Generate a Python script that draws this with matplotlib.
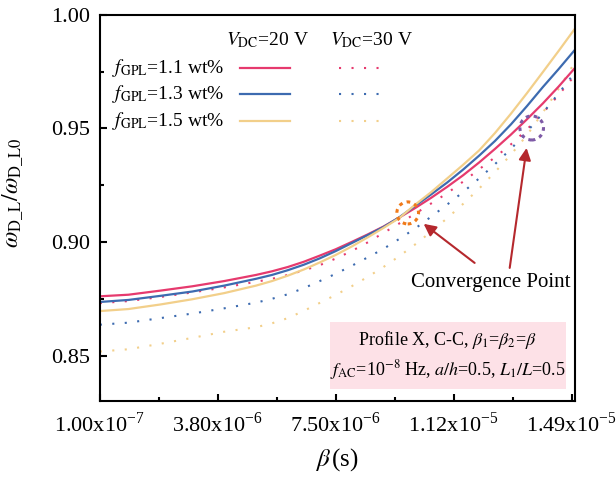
import numpy as np
import matplotlib
matplotlib.use('Agg')
import matplotlib.pyplot as plt
from matplotlib.lines import Line2D
from matplotlib.patches import Rectangle, Ellipse

plt.rcParams['font.family'] = ['Liberation Serif', 'DejaVu Serif']
plt.rcParams['mathtext.fontset'] = 'stix'

# beta in microseconds
beta_us = [0.1, 1, 2, 3, 4, 5, 5.5, 6, 6.5, 7, 7.5, 8, 8.5, 9, 9.5, 10,
           10.5, 11, 11.5, 12, 12.5, 13, 13.5, 14, 14.5, 15]

# V_DC = 20 V
w20_11 = [0.8761, 0.8768, 0.8786, 0.8805, 0.8828, 0.8855, 0.8871, 0.8890,
          0.8913, 0.8940, 0.8968, 0.9000, 0.9033, 0.9068, 0.9108, 0.9150,
          0.9195, 0.9243, 0.9294, 0.9350, 0.9410, 0.9473, 0.9540, 0.9610,
          0.9685, 0.9765]
w20_13 = [0.8736, 0.8745, 0.8763, 0.8782, 0.8808, 0.8838, 0.8855, 0.8876,
          0.8900, 0.8928, 0.8960, 0.8995, 0.9030, 0.9066, 0.9109, 0.9160,
          0.9210, 0.9262, 0.9319, 0.9380, 0.9445, 0.9518, 0.9598, 0.9682,
          0.9762, 0.9845]
w20_15 = [0.8696, 0.8705, 0.8725, 0.8748, 0.8775, 0.8808, 0.8828, 0.8852,
          0.8879, 0.8910, 0.8943, 0.8980, 0.9020, 0.9062, 0.9106, 0.9165,
          0.9220, 0.9280, 0.9340, 0.9403, 0.9480, 0.9565, 0.9655, 0.9748,
          0.9842, 0.9938]

# V_DC = 30 V
w30_11 = [0.8731, 0.8740, 0.8758, 0.8778, 0.8800, 0.8825, 0.8838, 0.8855,
          0.8875, 0.8898, 0.8927, 0.8960, 0.8998, 0.9040, 0.9082, 0.9125,
          0.9170, 0.9215, 0.9266, 0.9320, 0.9373, 0.9430, 0.9495, 0.9568,
          0.9648, 0.9733]
w30_13 = [0.8636, 0.8645, 0.8665, 0.8685, 0.8708, 0.8733, 0.8750, 0.8770,
          0.8797, 0.8828, 0.8860, 0.8895, 0.8932, 0.8970, 0.9014, 0.9060,
          0.9112, 0.9165, 0.9220, 0.9280, 0.9343, 0.9410, 0.9485, 0.9568,
          0.9655, 0.9745]
w30_15 = [0.8518, 0.8528, 0.8552, 0.8578, 0.8605, 0.8625, 0.8642, 0.8665,
          0.8697, 0.8732, 0.8767, 0.8805, 0.8846, 0.8890, 0.8938, 0.8990,
          0.9046, 0.9105, 0.9168, 0.9235, 0.9308, 0.9385, 0.9470, 0.9570,
          0.9675, 0.9790]

fractions = ['1.1', '1.3', '1.5']
colors = ['#e63a6e', '#3d6bb0', '#f2cf8a']

xticks = [1.00e-7, 3.80e-6, 7.50e-6, 1.12e-5, 1.49e-5]
xtick_labels = ['1.00x10$^{\\mathregular{-7}}$', '3.80x10$^{\\mathregular{-6}}$',
                '7.50x10$^{\\mathregular{-6}}$', '1.12x10$^{\\mathregular{-5}}$',
                '1.49x10$^{\\mathregular{-5}}$']
yticks = [0.85, 0.90, 0.95, 1.00]

# convergence points (x in s, y)
conv_20 = (9.76e-6, 0.9128)
conv_30 = (13.65e-6, 0.9502)

x = np.array(beta_us) * 1e-6
dotted = (0, (1, 5))

fig = plt.figure(figsize=(6.16, 4.78), dpi=100)
ax = fig.add_axes([0.162, 0.161, 0.771, 0.808])

for ys, c in zip([w30_11, w30_13, w30_15], colors):
    ax.plot(x, ys, color=c, lw=1.5, linestyle=dotted)
for ys, c in zip([w20_11, w20_13, w20_15], colors):
    ax.plot(x, ys, color=c, lw=1.6)

ax.set_xlim(1e-7, 1.5e-5)
ax.set_ylim(0.83, 1.00)
ax.set_xticks(xticks)
ax.set_xticklabels(xtick_labels)
ax.set_xticks([(a + b) / 2 for a, b in zip(xticks[:-1], xticks[1:])], minor=True)
ax.set_yticks(yticks)
ax.set_yticklabels(['%.2f' % v for v in yticks])
ax.set_yticks([0.875, 0.925, 0.975], minor=True)
ax.tick_params(which='both', direction='in', width=1.5, labelsize=16,
               top=False, right=False)
ax.tick_params(which='major', length=5)
ax.tick_params(which='minor', length=3)
ax.tick_params(axis='x', pad=8)
ax.tick_params(axis='y', pad=7)
for s in ax.spines.values():
    s.set_linewidth(1.5)

ax.set_xlabel(r'$\beta\,$(s)', fontsize=18, labelpad=7)
ax.set_ylabel(r'$\omega_{\mathrm{D\_L}}/\omega_{\mathrm{D\_L0}}$', fontsize=17)
ax.yaxis.set_label_coords(-0.155, 0.539)

# hand-made legend
tr = ax.transAxes
ax.text(0.354, 0.935, r'$V_{\mathrm{DC}}$=20 V', transform=tr, fontsize=14,
        ha='center', va='center')
ax.text(0.573, 0.935, r'$V_{\mathrm{DC}}$=30 V', transform=tr, fontsize=14,
        ha='center', va='center')
for i, (fr, c) in enumerate(zip(fractions, colors)):
    yy = 0.8635 - i * 0.0693
    ax.text(0.025, yy, r'$f_{\mathrm{GPL}}$=' + fr + ' wt%', transform=tr,
            fontsize=14, ha='left', va='center')
    ax.add_line(Line2D([0.296, 0.400], [yy, yy], transform=tr, color=c, lw=1.6))
    ax.add_line(Line2D([0.503, 0.592], [yy, yy], transform=tr, color=c, lw=1.5,
                       linestyle=dotted))

# parameter box
ax.add_patch(Rectangle((0.484, 0.031), 0.497, 0.174, transform=tr,
                       facecolor='#fde1e7', edgecolor='none', zorder=1))
ax.text(0.7325, 0.158, r'Profile X, C-C, $\beta_1$=$\beta_2$=$\beta$',
        transform=tr, fontsize=13, ha='center', va='center')
ax.text(0.7325, 0.080, r'$f_{\mathrm{AC}}$=10$^{-8}$ Hz, $a/h$=0.5, $L_1/L$=0.5',
        transform=tr, fontsize=13, ha='center', va='center')

# convergence markers
ax.add_patch(Ellipse(conv_20, 0.68e-6, 0.0097, fill=False, edgecolor='#f07a1a',
                     lw=2.2, linestyle=(0, (1.2, 1.4)), zorder=5))
ax.add_patch(Ellipse(conv_30, 0.74e-6, 0.0106, fill=False, edgecolor='#7e5aa6',
                     lw=2.2, linestyle=(0, (1.2, 1.4)), zorder=5))

arrow = dict(arrowstyle='-|>', color='#b5282d', lw=1.5, mutation_scale=18,
             shrinkA=0, shrinkB=0)
ax.annotate('', xy=(10.26e-6, 0.908), xytext=(11.86e-6, 0.8908), arrowprops=arrow)
ax.annotate('', xy=(13.49e-6, 0.9414), xytext=(12.96e-6, 0.8886), arrowprops=arrow)
ax.text(12.35e-6, 0.882, 'Convergence Point', fontsize=15, ha='center',
        va='center')

fig.savefig('out.png', dpi=100)
